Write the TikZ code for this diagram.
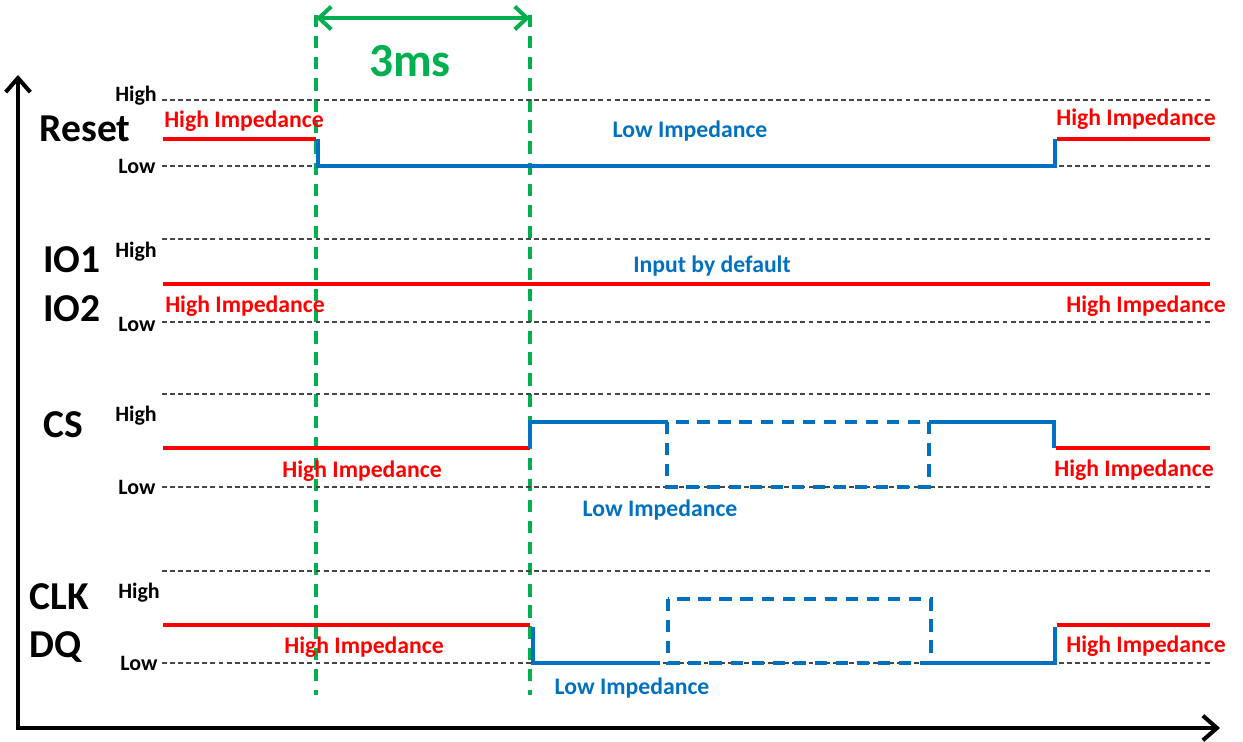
\documentclass[tikz,border=0pt]{standalone}
\usepackage{fontspec}
\setmainfont{Carlito}
\usetikzlibrary{arrows.meta}
\definecolor{sigred}{RGB}{255,0,0}
\definecolor{sigblue}{RGB}{0,112,192}
\definecolor{tgreen}{RGB}{0,176,80}
\definecolor{lvlgray}{RGB}{70,70,70}
\tikzset{
	level/.style={draw=lvlgray, line width=1pt, dash pattern=on 2.8pt off 1.8pt},
	hiz/.style={draw=sigred, line width=2.1pt},
	drive/.style={draw=sigblue, line width=2.1pt},
	maybe/.style={draw=sigblue, line width=2.1pt, dash pattern=on 7pt off 5pt},
	guide/.style={draw=tgreen, line width=2.1pt, dash pattern=on 7pt off 5pt},
	axis/.style={draw=black, line width=2.3pt},
	signame/.style={anchor=base, inner sep=0pt, font=\bfseries\fontsize{22.5}{22.5}\selectfont},
	lvlname/.style={anchor=base, inner sep=0pt, font=\bfseries\fontsize{12.5}{12.5}\selectfont},
	redtxt/.style={anchor=base, inner sep=0pt, text=sigred, font=\bfseries\fontsize{13.5}{13.5}\selectfont},
	bluetxt/.style={anchor=base, inner sep=0pt, text=sigblue, font=\bfseries\fontsize{13.5}{13.5}\selectfont}
}
\begin{document}
\begin{tikzpicture}[x=0.02cm, y=-0.02cm]
		\useasboundingbox (0,0) rectangle (1243,742);
		% axes and guides
		\coordinate (ytip) at (18,75);
		\coordinate (orig) at (18,728);
		\coordinate (xtip) at (1220,728);
		\draw[axis, {Straight Barb[length=8pt,width=14pt]}-{Straight Barb[length=8pt,width=14pt]}] (ytip) -- (orig) -- (xtip);
		\coordinate (t0top) at (316,15);
		\coordinate (t0bot) at (316,695);
		\coordinate (t1top) at (530,15);
		\coordinate (t1bot) at (530,695);
		\draw[guide] (t0top) -- (t0bot);
		\draw[guide] (t1top) -- (t1bot);
		\draw[tgreen, line width=2.3pt, {Straight Barb[length=7pt,width=13pt]}-{Straight Barb[length=7pt,width=13pt]}] (t0top) ++(0,3) coordinate (gl) -- (gl -| t1top);
		\node[anchor=base, inner sep=0pt, text=tgreen, font=\bfseries\fontsize{27}{27}\selectfont] (span) at (410,77) {3ms};
		\foreach \y in {100,166,239,322,394,487,571,663}
			\draw[level] (162,\y) -- (1210,\y);
		% Reset
		\node[signame] (reset) at (85,142) {Reset};
		\node[lvlname] (rhi) at (136,102) {High};
		\node[lvlname] (rlo) at (137,174) {Low};
		\draw[hiz] (163,139) -- (316,139);
		\draw[drive] (318,139) -- (318,166) -- (1055,166) -- (1055,139);
		\draw[hiz] (1057,139) -- (1210,139);
		\node[redtxt] (rz0) at (244,128) {High Impedance};
		\node[bluetxt] (rlz) at (690,138) {Low Impedance};
		\node[redtxt] (rz1) at (1136,126) {High Impedance};
		% IO1 / IO2
		\node[signame] (io1) at (72,273) {IO1};
		\node[signame] (io2) at (72,322) {IO2};
		\node[lvlname] (iohi) at (136,258) {High};
		\node[lvlname] (iolo) at (137,332) {Low};
		\draw[hiz] (163,284) -- (1210,284);
		\node[bluetxt] (iodef) at (712,273) {Input by default};
		\node[redtxt] (ioz0) at (245,313) {High Impedance};
		\node[redtxt] (ioz1) at (1146,313) {High Impedance};
		% CS
		\node[signame] (cs) at (63,438) {CS};
		\node[lvlname] (cshi) at (136,422) {High};
		\node[lvlname] (cslo) at (137,495) {Low};
		\draw[hiz] (163,448) -- (530,448);
		\draw[drive] (530,448) -- (530,422) -- (667,422);
		\draw[maybe] (667,422) rectangle (929,487);
		\draw[drive] (929,422) -- (1054,422) -- (1054,448);
		\draw[hiz] (1056,448) -- (1210,448);
		\node[redtxt] (csz0) at (362,478) {High Impedance};
		\node[bluetxt] (cslz) at (660,517) {Low Impedance};
		\node[redtxt] (csz1) at (1134,477) {High Impedance};
		% CLK / DQ
		\node[signame] (clk) at (59,609) {CLK};
		\node[signame] (dq) at (56,657) {DQ};
		\node[lvlname] (dqhi) at (139,598) {High};
		\node[lvlname] (dqlo) at (139,670) {Low};
		\draw[hiz] (163,625) -- (530,625);
		\draw[drive] (533,627) -- (533,663) -- (660,663);
		\draw[maybe] (668,599) rectangle (931,663);
		\draw[drive] (931,663) -- (1055,663) -- (1055,627);
		\draw[hiz] (1057,625) -- (1210,625);
		\node[redtxt] (dqz0) at (364,653) {High Impedance};
		\node[bluetxt] (dqlz) at (632,694) {Low Impedance};
		\node[redtxt] (dqz1) at (1146,652) {High Impedance};
	\end{tikzpicture}
\end{document}
